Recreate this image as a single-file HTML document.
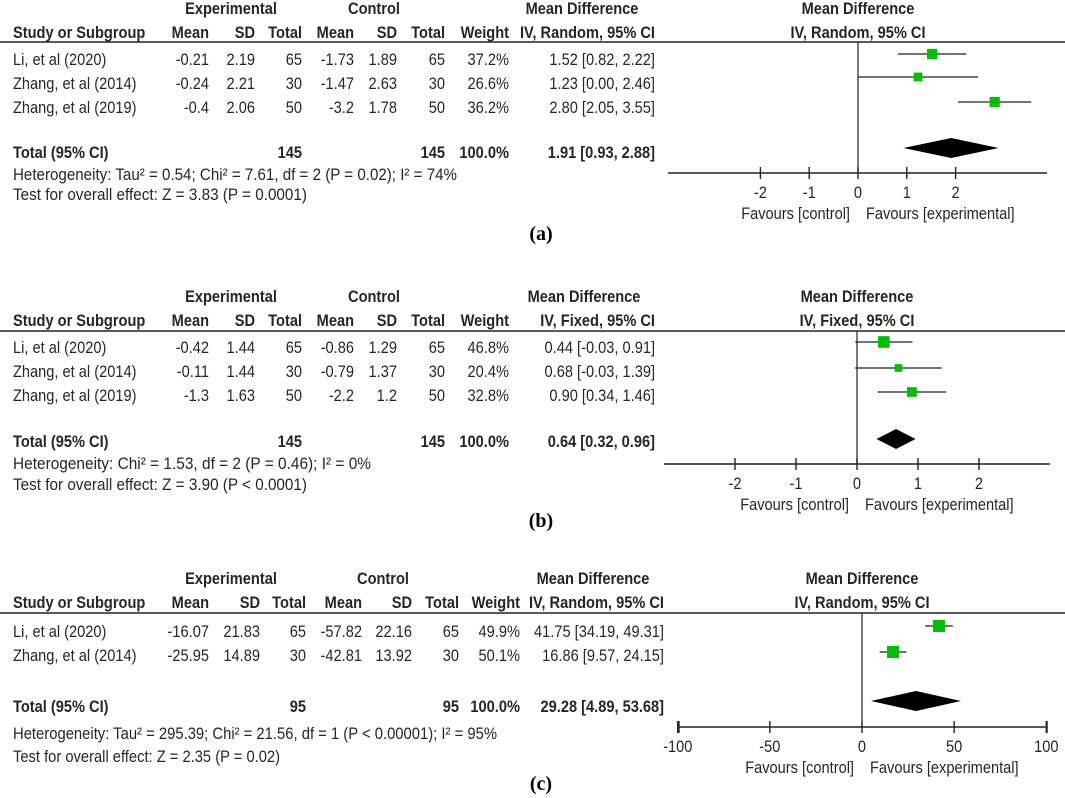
<!DOCTYPE html>
<html><head><meta charset="utf-8">
<style>
html,body{margin:0;padding:0;background:#fff;}
svg{display:block;}
text{font-family:"Liberation Sans",Arial,sans-serif;fill:#262626;}
</style></head>
<body>
<svg id="fig" width="1065" height="798" viewBox="0 0 1065 798" xmlns="http://www.w3.org/2000/svg"></svg>
<script>
// ---------- Data: panel (a) ----------
const studiesA = ["Li, et al (2020)", "Zhang, et al (2014)", "Zhang, et al (2019)"];
const expMeanA = ["-0.21", "-0.24", "-0.4"];
const expSdA = ["2.19", "2.21", "2.06"];
const expNA = [65, 30, 50];
const ctlMeanA = ["-1.73", "-1.47", "-3.2"];
const ctlSdA = ["1.89", "2.63", "1.78"];
const ctlNA = [65, 30, 50];
const weightA = [37.2, 26.6, 36.2];
const mdA = [1.52, 1.23, 2.80];
const loA = [0.82, 0.00, 2.05];
const hiA = [2.22, 2.46, 3.55];
const totalA = [1.91, 0.93, 2.88];
const ticksA = [-2, -1, 0, 1, 2];

// ---------- Data: panel (b) ----------
const studiesB = ["Li, et al (2020)", "Zhang, et al (2014)", "Zhang, et al (2019)"];
const expMeanB = ["-0.42", "-0.11", "-1.3"];
const expSdB = ["1.44", "1.44", "1.63"];
const expNB = [65, 30, 50];
const ctlMeanB = ["-0.86", "-0.79", "-2.2"];
const ctlSdB = ["1.29", "1.37", "1.2"];
const ctlNB = [65, 30, 50];
const weightB = [46.8, 20.4, 32.8];
const mdB = [0.44, 0.68, 0.90];
const loB = [-0.03, -0.03, 0.34];
const hiB = [0.91, 1.39, 1.46];
const totalB = [0.64, 0.32, 0.96];
const ticksB = [-2, -1, 0, 1, 2];

// ---------- Data: panel (c) ----------
const studiesC = ["Li, et al (2020)", "Zhang, et al (2014)"];
const expMeanC = ["-16.07", "-25.95"];
const expSdC = ["21.83", "14.89"];
const expNC = [65, 30];
const ctlMeanC = ["-57.82", "-42.81"];
const ctlSdC = ["22.16", "13.92"];
const ctlNC = [65, 30];
const weightC = [49.9, 50.1];
const mdC = [41.75, 16.86];
const loC = [34.19, 9.57];
const hiC = [49.31, 24.15];
const totalC = [29.28, 4.89, 53.68];
const ticksC = [-100, -50, 0, 50, 100];

const NS = "http://www.w3.org/2000/svg";
const svg = document.getElementById("fig");
const SX = 0.86;
const FS = 17;

function mk(tag, attrs, parent) {
  const e = document.createElementNS(NS, tag);
  for (const k in attrs) e.setAttribute(k, attrs[k]);
  (parent || svg).appendChild(e);
  return e;
}
function txt(g, x, y, s, anchor, bold, name, len) {
  const e = mk("text", {transform: "translate(" + x + "," + y + ") scale(" + SX + ",1)", x: 0, y: 0, "font-size": FS, "text-anchor": anchor || "start"}, g);
  if (bold) e.setAttribute("font-weight", "bold");
  if (len) { e.setAttribute("textLength", len / SX); e.setAttribute("lengthAdjust", "spacingAndGlyphs"); }
  e.textContent = s;
  
  
  return e;
}
function fmt(v) { return v.toFixed(2); }

function panel(P) {
  const g = mk("g", {});
  
  
  const C = P.cols;
  txt(g, P.expC, P.h1, "Experimental", "middle", true, "experimental-group-header");
  txt(g, P.ctlC, P.h1, "Control", "middle", true, "control-group-header");
  txt(g, P.mdC, P.h1, "Mean Difference", "middle", true, "mean-difference-header");
  txt(g, P.zero, P.h1, "Mean Difference", "middle", true, "plot-header");
  txt(g, 13, P.h2, "Study or Subgroup", "start", true, "study-column-header");
  const hs = ["Mean", "SD", "Total", "Mean", "SD", "Total", "Weight"];
  const hn = ["exp-mean-header", "exp-sd-header", "exp-total-header", "ctl-mean-header", "ctl-sd-header", "ctl-total-header", "weight-header"];
  hs.forEach((h, i) => txt(g, C[i], P.h2, h, "end", true, hn[i]));
  txt(g, P.ciR, P.h2, P.method, "end", true, "method-header");
  txt(g, P.zero, P.h2, P.method, "middle", true, "plot-method-header");
  const hl = mk("line", {x1: 0, x2: 1065, y1: P.line, y2: P.line, stroke: "#222", "stroke-width": 1.6}, g);
  
  

  const X = v => P.zero + v * P.unit;
  const zl = mk("line", {x1: X(0), x2: X(0), y1: P.line, y2: P.axisY, stroke: "#222", "stroke-width": 1.2}, g);
  
  

  P.studies.forEach((s, i) => {
    const ty = P.textY[i] + 6;
    txt(g, 13, ty, s, "start", false, "study-name");
    const vals = [P.em[i], P.es[i], String(P.en[i]), P.cm[i], P.cs[i], String(P.cn[i]), P.w[i].toFixed(1) + "%"];
    vals.forEach((v, j) => txt(g, C[j], ty, v, "end", false, "study-value"));
    txt(g, P.ciR, ty, fmt(P.md[i]) + " [" + fmt(P.lo[i]) + ", " + fmt(P.hi[i]) + "]", "end", false, "study-effect-ci");
    const y = P.markY[i];
    const ci = mk("line", {x1: X(P.lo[i]), x2: X(P.hi[i]), y1: y, y2: y, stroke: "#222", "stroke-width": 1.3}, g);
    
    
    const sz = 1.7 * Math.sqrt(P.w[i]);
    const sq = mk("rect", {x: X(P.md[i]) - sz / 2, y: y - sz / 2, width: sz, height: sz, fill: "#00c000"}, g);
    
    
  });
  const tty = P.totalTextY + 6;
  txt(g, 13, tty, "Total (95% CI)", "start", true, "total-label");
  const nE = P.en.reduce((a, b) => a + b, 0), nC = P.cn.reduce((a, b) => a + b, 0);
  txt(g, C[2], tty, String(nE), "end", true, "total-exp-n");
  txt(g, C[5], tty, String(nC), "end", true, "total-ctl-n");
  txt(g, C[6], tty, "100.0%", "end", true, "total-weight");
  txt(g, P.ciR, tty, fmt(P.total[0]) + " [" + fmt(P.total[1]) + ", " + fmt(P.total[2]) + "]", "end", true, "total-effect-ci");
  const dy = P.diamondY, dh = 10;
  const dm = mk("polygon", {points: [X(P.total[1]) + "," + dy, X(P.total[0]) + "," + (dy - dh), X(P.total[2]) + "," + dy, X(P.total[0]) + "," + (dy + dh)].join(" "), fill: "#000"}, g);
  
  
  txt(g, 13, P.hetY + 6, P.het, "start", false, "heterogeneity-text", P.hetW);
  txt(g, 13, P.testY + 6, P.test, "start", false, "overall-effect-text", P.testW);
  const ax = mk("line", {x1: P.ax0, x2: P.ax1, y1: P.axisY, y2: P.axisY, stroke: "#222", "stroke-width": 1.6}, g);
  
  
  if (P.endTicks) {
    [P.ax0, P.ax1].forEach(x => {
      const et = mk("line", {x1: x, x2: x, y1: P.axisY - 6, y2: P.axisY + 6, stroke: "#222", "stroke-width": 1.4}, g);
      
      
    });
  }
  P.ticks.forEach(t => {
    const tk = mk("line", {x1: X(t), x2: X(t), y1: P.axisY - 6, y2: P.axisY + 6, stroke: "#222", "stroke-width": 1.4}, g);
    
    
    txt(g, X(t), P.axisY + 25, String(t), "middle", false, "x-tick-label");
  });
  txt(g, X(0) - 8, P.axisY + 46, "Favours [control]", "end", false, "favours-control-label");
  txt(g, X(0) + 8, P.axisY + 46, "Favours [experimental]", "start", false, "favours-experimental-label");
  const lab = mk("text", {x: 541, y: P.labY, "text-anchor": "middle", "font-size": 20, "font-weight": "bold", style: "font-family:'Liberation Serif',serif;fill:#000"}, g);
  lab.textContent = P.label;
  
  
}

const colsAB = [209, 255, 302, 354, 397, 445, 509];
panel({name: "panel-a", label: "(a)", studies: studiesA, em: expMeanA, es: expSdA, en: expNA, cm: ctlMeanA, cs: ctlSdA, cn: ctlNA, w: weightA, md: mdA, lo: loA, hi: hiA, total: totalA, ticks: ticksA,
  cols: colsAB, ciR: 655, expC: 231, ctlC: 374, mdC: 582, method: "IV, Random, 95% CI",
  h1: 14, h2: 38, line: 42, textY: [59, 83, 107], markY: [54, 77, 102], totalTextY: 152, diamondY: 148, hetY: 174, testY: 194,
  hetW: 444, testW: 294, zero: 858, unit: 48.8, ax0: 668, ax1: 1047, axisY: 173, labY: 240,
  het: "Heterogeneity: Tau\u00B2 = 0.54; Chi\u00B2 = 7.61, df = 2 (P = 0.02); I\u00B2 = 74%", test: "Test for overall effect: Z = 3.83 (P = 0.0001)"});
panel({name: "panel-b", label: "(b)", studies: studiesB, em: expMeanB, es: expSdB, en: expNB, cm: ctlMeanB, cs: ctlSdB, cn: ctlNB, w: weightB, md: mdB, lo: loB, hi: hiB, total: totalB, ticks: ticksB,
  cols: colsAB, ciR: 655, expC: 231, ctlC: 374, mdC: 584, method: "IV, Fixed, 95% CI",
  h1: 302, h2: 326, line: 331, textY: [347, 371, 395], markY: [342, 368, 392], totalTextY: 441, diamondY: 439, hetY: 463, testY: 484,
  hetW: 358, testW: 294, zero: 857, unit: 61, ax0: 664, ax1: 1050, axisY: 464, labY: 527,
  het: "Heterogeneity: Chi\u00B2 = 1.53, df = 2 (P = 0.46); I\u00B2 = 0%", test: "Test for overall effect: Z = 3.90 (P < 0.0001)"});
panel({name: "panel-c", label: "(c)", studies: studiesC, em: expMeanC, es: expSdC, en: expNC, cm: ctlMeanC, cs: ctlSdC, cn: ctlNC, w: weightC, md: mdC, lo: loC, hi: hiC, total: totalC, ticks: ticksC,
  cols: [209, 260, 306, 362, 412, 459, 520], ciR: 664, expC: 231, ctlC: 383, mdC: 593, method: "IV, Random, 95% CI", endTicks: true,
  h1: 584, h2: 608, line: 613, textY: [631, 655], markY: [626, 652], totalTextY: 706, diamondY: 701, hetY: 733, testY: 756,
  hetW: 484, testW: 267, zero: 862, unit: 1.843, ax0: 679, ax1: 1047, axisY: 727, labY: 790,
  het: "Heterogeneity: Tau\u00B2 = 295.39; Chi\u00B2 = 21.56, df = 1 (P < 0.00001); I\u00B2 = 95%", test: "Test for overall effect: Z = 2.35 (P = 0.02)"});
</script>
</body></html>
